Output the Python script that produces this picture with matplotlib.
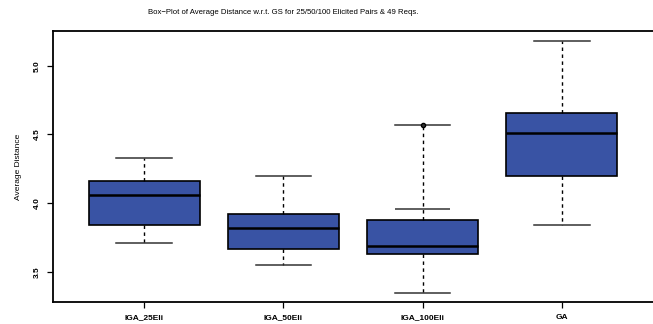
import numpy as np
import matplotlib
matplotlib.use("Agg")
import matplotlib.pyplot as plt

plt.rcParams['font.family'] = ['Liberation Sans', 'DejaVu Sans']

# box statistics
groups = ['IGA_25Eli', 'IGA_50Eli', 'IGA_100Eli', 'GA']
whislo = [3.712, 3.549, 3.348, 3.841]
q1 = [3.838, 3.666, 3.630, 4.199]
med = [4.059, 3.819, 3.688, 4.510]
q3 = [4.159, 3.921, 3.879, 4.654]
whishi = [4.330, 4.199, 4.571, 5.180]
# IGA_100Eli also shows an inner cap and an outlier point
inner_cap = [None, None, 3.959, None]
outliers = [[], [], [4.571], []]

fill = '#3953A4'

stats = []
for i in range(len(groups)):
    stats.append(dict(label=groups[i], whislo=whislo[i], q1=q1[i], med=med[i],
                      q3=q3[i], whishi=whishi[i], fliers=outliers[i]))

fig = plt.figure(figsize=(6.53, 3.24), dpi=100)
ax = fig.add_axes([53 / 653, 22 / 324, 600 / 653, 271 / 324])

pos = np.arange(1, len(groups) + 1)
ax.bxp(stats, positions=pos, widths=0.8, patch_artist=True, showfliers=True,
       boxprops=dict(facecolor=fill, edgecolor='black', linewidth=1.2),
       medianprops=dict(color='black', linewidth=1.8),
       whiskerprops=dict(color='black', linewidth=1.0, linestyle=(0, (2.5, 2.5))),
       capprops=dict(color='#333333', linewidth=1.1),
       flierprops=dict(marker='o', markersize=3, markerfacecolor='#333333',
                       markeredgecolor='black', linestyle='none'))
# inner cap on IGA_100Eli
for p, c in zip(pos, inner_cap):
    if c is not None:
        ax.hlines(c, p - 0.2, p + 0.2, color='#333333', linewidth=1.1)

ax.set_xlim(0.344, 4.656)
ax.set_ylim(3.2795, 5.2525)
ax.set_yticks([3.5, 4.0, 4.5, 5.0])
ax.set_yticklabels(['3.5', '4.0', '4.5', '5.0'], rotation=90, va='center',
                   fontsize=6, fontweight='bold')
ax.set_xticks(pos)
ax.set_xticklabels(groups, fontsize=6, fontweight='bold')
ax.tick_params(axis='both', length=4.5, width=0.9, pad=4)
ax.spines['right'].set_visible(False)
for s in ['top', 'left', 'bottom']:
    ax.spines[s].set_linewidth(1.3)

ax.set_ylabel('Average Distance', fontsize=6, labelpad=9)
fig.text(283 / 653, 1 - 13 / 324, 'Box\u2212Plot of Average Distance w.r.t. GS for 25/50/100 Elicited Pairs & 49 Reqs.',
         ha='center', va='center', fontsize=5.6)

fig.savefig('out.png', dpi=100)
